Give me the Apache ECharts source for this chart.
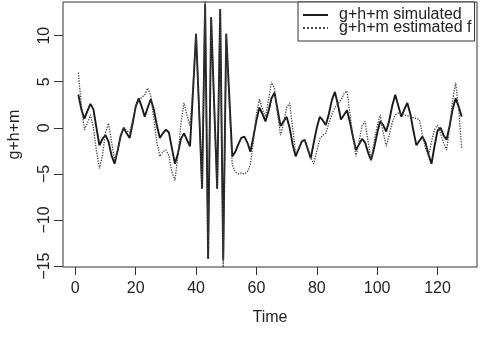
<!DOCTYPE html>
<html>
<head>
<meta charset="utf-8">
<script src="https://cdn.jsdelivr.net/npm/echarts@6/dist/echarts.min.js"></script>
<style>
  html, body { margin: 0; padding: 0; background: #fff; }
  #main { width: 485px; height: 343px; }
</style>
</head>
<body>
<div id="main"></div>
<script>
// g+h+m, simulated vs estimated (time 1..128)
const simulated = [
    3.6, 2.0, 1.0, 1.8, 2.6, 2.0, 0.0, -1.9, -1.2, -0.8,
    -1.5, -3.0, -3.9, -2.5, -0.9, 0.0, -0.6, -1.1, 0.5, 2.3,
    3.2, 2.3, 1.2, 2.2, 3.1, 2.0, 0.3, -1.1, -0.6, -0.2,
    -0.5, -2.2, -3.9, -2.8, -1.2, -0.6, -1.3, -2.0, 4.0, 10.2,
    2.0, -6.6, 13.4, -14.2, 12.0, 2.5, -6.6, 12.9, -14.3, 10.2,
    3.5, -3.1, -2.6, -1.8, -1.1, -0.95, -1.6, -2.6, -1.0, 0.8,
    2.2, 1.5, 0.7, 1.8, 3.2, 3.8, 2.0, 0.2, 0.7, 1.2,
    0.0, -1.8, -3.1, -2.3, -1.5, -1.3, -2.3, -3.3, -1.6, 0.0,
    1.2, 0.8, 0.3, 1.5, 3.0, 3.9, 2.5, 0.9, 1.4, 1.9,
    0.6, -1.0, -2.4, -1.8, -1.2, -1.6, -2.7, -3.5, -2.2, -0.6,
    0.7, 0.3, -0.4, 0.8, 2.4, 3.6, 2.4, 1.2, 2.0, 2.7,
    1.5, -0.3, -1.9, -1.4, -0.95, -1.6, -2.9, -3.9, -2.0, -0.3,
    0.0, -0.8, -1.3, 0.2, 2.0, 3.2, 2.3, 1.2
];
const estimated = [
    6.0, 2.5, -0.2, 0.5, 1.4, 0.0, -2.5, -4.4, -3.0, -0.5,
    0.5, -1.5, -3.5, -2.5, -1.0, 0.0, -0.3, -0.5, 0.8, 2.3,
    3.0, 3.3, 3.6, 4.3, 3.5, 1.0, -1.5, -3.1, -2.6, -2.4,
    -3.0, -4.8, -5.7, -3.0, 0.5, 2.7, 1.4, 0.2, 4.5, 10.2,
    2.0, -6.6, 14.5, -14.2, 12.0, 2.5, -6.6, 12.9, -15.4, 10.2,
    2.5, -4.0, -4.8, -5.0, -4.9, -5.0, -4.8, -4.0, -1.5, 1.5,
    3.1, 2.0, 1.2, 3.0, 5.0, 4.2, 1.5, -0.8, 0.5, 2.2,
    2.7, 0.0, -2.8, -2.2, -1.5, -1.3, -2.2, -3.3, -3.9, -2.5,
    -1.2, -0.8, -0.6, 0.5, 1.5, 2.2, 2.6, 3.0, 3.7, 4.0,
    1.5, -1.0, -3.1, -1.5, 0.2, 0.7, -1.5, -3.5, -1.5, 0.2,
    1.4, -0.5, -2.0, -0.8, 0.6, 1.4, 1.6, 1.5, 1.4, 1.3,
    1.2, 1.1, 1.0, 0.9, -0.8, -2.2, -3.1, -1.5, -0.2, 0.3,
    -0.6, -1.6, -2.4, 0.0, 3.0, 4.9, 2.0, -2.2
];
const xTicks = [0, 20, 40, 60, 80, 100, 120];
const yTicks = [-15, -10, -5, 0, 5, 10];

const time = simulated.map((v, i) => i + 1);
const pairs = (vals) => vals.map((v, i) => [time[i], v]);

const chart = echarts.init(document.getElementById('main'));

chart.setOption({
    animation: false,
    backgroundColor: '#fff',
    textStyle: { fontFamily: 'Liberation Sans, Arial, sans-serif', color: '#222' },
    grid: {
        left: 63, right: 8, top: 2, bottom: 76,
        outerBoundsMode: 'none',
        show: true, borderColor: '#333', borderWidth: 1
    },
    legend: {
        orient: 'vertical',
        left: 298, top: 2,
        padding: [5, 3, 5, 4],
        itemWidth: 25, itemHeight: 13, itemGap: -3,
        backgroundColor: '#fff',
        borderColor: '#333', borderWidth: 1, borderRadius: 0,
        itemStyle: { opacity: 0 },
        textStyle: { fontSize: 16, lineHeight: 13, color: '#222', padding: [0, 0, 0, 6] },
        data: ['g+h+m simulated', 'g+h+m estimated f']
    },
    xAxis: {
        type: 'value',
        min: -4.08, max: 133.08,
        name: 'Time', nameLocation: 'middle', nameGap: 43,
        nameTextStyle: { fontSize: 16, color: '#222' },
        axisLine: { show: false, onZero: false },
        splitLine: { show: false },
        axisTick: { customValues: xTicks, length: 8, lineStyle: { color: '#333' } },
        axisLabel: { customValues: xTicks, fontSize: 16, margin: 14, color: '#222' }
    },
    yAxis: {
        type: 'value',
        min: -15.1, max: 13.65,
        name: 'g+h+m', nameLocation: 'middle', nameGap: 40,
        nameTextStyle: { fontSize: 16, color: '#222' },
        axisLine: { show: false, onZero: false },
        splitLine: { show: false },
        axisTick: { customValues: yTicks, length: 9, lineStyle: { color: '#333' } },
        axisLabel: {
            customValues: yTicks, fontSize: 16, margin: 10, rotate: 90, color: '#222',
            formatter: (v) => String(v).replace('-', '\u2212')
        }
    },
    series: [
        {
            name: 'g+h+m simulated',
            type: 'line',
            symbol: 'none',
            data: pairs(simulated),
            lineStyle: { color: '#1a1a1a', width: 1.9 },
            itemStyle: { color: '#1a1a1a' }
        },
        {
            name: 'g+h+m estimated f',
            type: 'line',
            symbol: 'none',
            data: pairs(estimated),
            lineStyle: { color: '#444', width: 1.3, type: 'dotted' },
            itemStyle: { color: '#444' }
        }
    ]
});
</script>
</body>
</html>
